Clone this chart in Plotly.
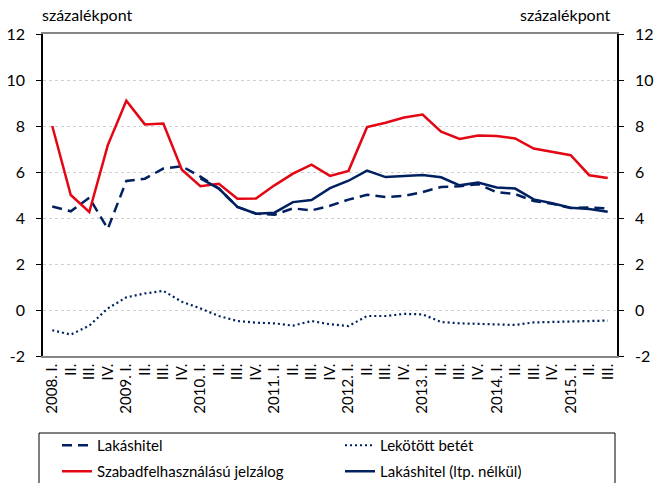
import plotly.graph_objects as go

quarters = ["2008. I.", "II.", "III.", "IV.", "2009. I.", "II.", "III.", "IV.",
            "2010. I.", "II.", "III.", "IV.", "2011. I.", "II.", "III.", "IV.",
            "2012. I.", "II.", "III.", "IV.", "2013. I.", "II.", "III.", "IV.",
            "2014. I.", "II.", "III.", "IV.", "2015. I.", "II.", "III."]

lakashitel = [4.50, 4.29, 4.88, 3.53, 5.61, 5.71, 6.15, 6.25,
              5.80, 5.28, 4.48, 4.19, 4.14, 4.42, 4.33, 4.53,
              4.80, 5.01, 4.91, 4.96, 5.13, 5.35, 5.38, 5.47,
              5.12, 5.04, 4.74, 4.62, 4.43, 4.46, 4.42]

lekotott = [-0.88, -1.07, -0.68, 0.07, 0.55, 0.72, 0.83, 0.36,
            0.07, -0.26, -0.48, -0.55, -0.58, -0.68, -0.48, -0.62,
            -0.70, -0.26, -0.26, -0.17, -0.19, -0.52, -0.58, -0.61,
            -0.65, -0.65, -0.54, -0.52, -0.48, -0.46, -0.46]

szabad = [8.00, 5.00, 4.26, 7.17, 9.10, 8.07, 8.11, 6.10,
          5.38, 5.49, 4.84, 4.85, 5.42, 5.93, 6.32, 5.83,
          6.05, 7.95, 8.14, 8.37, 8.50, 7.75, 7.44, 7.59,
          7.57, 7.46, 7.02, 6.86, 6.73, 5.86, 5.74]

lakas_ltp = [None, None, None, None, None, None, None, None,
             5.72, 5.28, 4.48, 4.19, 4.23, 4.69, 4.78, 5.30,
             5.62, 6.06, 5.78, 5.81, 5.87, 5.77, 5.42, 5.54,
             5.33, 5.28, 4.81, 4.64, 4.45, 4.39, 4.27]

y_ticks = [-2, 0, 2, 4, 6, 8, 10, 12]
y_tick_labels = ["-2", "0", "2", "4", "6", "8", "10", "12"]
unit_label = "százalékpont"

NAVY = "#002060"
RED = "#e30613"
GRAY = "#868686"
FONT = "Lato"

xs = list(range(len(quarters)))

fig = go.Figure()
fig.add_trace(go.Scatter(x=xs, y=lakashitel, name="Lakáshitel", mode="lines",
                         line=dict(color=NAVY, width=2.5, dash="10px,6px"),
                         legend="legend"))
fig.add_trace(go.Scatter(x=xs, y=lekotott, name="Lekötött betét", mode="lines",
                         line=dict(color=NAVY, width=2.2, dash="2px,3px"),
                         legend="legend"))
fig.add_trace(go.Scatter(x=xs, y=szabad, name="Szabadfelhasználású jelzálog", mode="lines",
                         line=dict(color=RED, width=2.5), legend="legend2"))
fig.add_trace(go.Scatter(x=xs, y=lakas_ltp, name="Lakáshitel (ltp. nélkül)", mode="lines",
                         line=dict(color=NAVY, width=2.5), legend="legend2"))

L, R, T, B = 43, 37, 34, 127
W, H = 654, 483
pw, ph = W - L - R, H - T - B

def px(xp):
    return (xp - L) / pw

def py(yp):
    return (H - B - yp) / ph

fig.update_layout(
    width=W, height=H,
    margin=dict(l=L, r=R, t=T, b=B, autoexpand=False),
    paper_bgcolor="white", plot_bgcolor="white",
    font=dict(family=FONT, size=15, color="black"),
    xaxis=dict(range=[-0.5, len(quarters) - 0.5], tickmode="array", tickvals=xs,
               ticktext=quarters, tickangle=-90, showgrid=False, zeroline=False,
               showline=True, linecolor=GRAY, linewidth=1.5, mirror=True, ticks="",
               tickfont=dict(size=15), fixedrange=True, automargin=False),
    xaxis2=dict(range=[-0.5, len(quarters) - 0.5], overlaying="x", anchor="free",
                position=2 / 14, tickmode="array", tickvals=[i + 0.5 for i in xs[:-1]],
                ticks="outside", ticklen=5, tickcolor=GRAY, tickwidth=1.5,
                showline=True, linecolor=GRAY, linewidth=1.5,
                showticklabels=False, showgrid=False, zeroline=False),
    yaxis=dict(range=[-2, 12], tickmode="array", tickvals=y_ticks, ticktext=y_tick_labels,
               showgrid=True, gridcolor="#d0d0d0", griddash="dot", gridwidth=1,
               zeroline=False, showline=True, linecolor="black", linewidth=1.5,
               ticks="outside", ticklen=5, tickcolor="black", tickwidth=1.2,
               ticklabelstandoff=8, tickfont=dict(size=16), automargin=False),
    yaxis2=dict(range=[-2, 12], overlaying="y", side="right", tickmode="array",
                tickvals=y_ticks, ticktext=y_tick_labels, showgrid=False, zeroline=False,
                showline=True, linecolor="black", linewidth=1.5, ticks="outside", ticklen=5,
                tickcolor="black", tickwidth=1.2, ticklabelstandoff=8,
                tickfont=dict(size=16), anchor="x", automargin=False),
    legend=dict(orientation="h", x=px(57), y=py(429), xanchor="left", yanchor="top",
                entrywidth=238, entrywidthmode="pixels", font=dict(size=15),
                bgcolor="rgba(0,0,0,0)", itemwidth=30, traceorder="normal"),
    legend2=dict(orientation="h", x=px(57), y=py(455), xanchor="left", yanchor="top",
                 entrywidth=238, entrywidthmode="pixels", font=dict(size=15),
                 bgcolor="rgba(0,0,0,0)", itemwidth=30, traceorder="normal"),
    showlegend=True,
)

# invisible trace to activate the right-hand axis
fig.add_trace(go.Scatter(x=[0], y=[0], yaxis="y2", mode="markers",
                         marker=dict(opacity=0), showlegend=False, hoverinfo="skip"))

fig.add_shape(type="rect", xref="paper", yref="paper",
              x0=px(39), x1=px(615), y0=py(520), y1=py(433),
              line=dict(color="black", width=1))

fig.add_annotation(text=unit_label, xref="paper", yref="paper", x=px(40), y=py(14),
                   xanchor="left", yanchor="middle", showarrow=False,
                   font=dict(size=16))
fig.add_annotation(text=unit_label, xref="paper", yref="paper", x=px(613), y=py(14),
                   xanchor="right", yanchor="middle", showarrow=False,
                   font=dict(size=16))

fig.write_html("out.html", config={"displayModeBar": False},
               post_script="document.body.style.margin='0';document.body.style.overflow='hidden';")
